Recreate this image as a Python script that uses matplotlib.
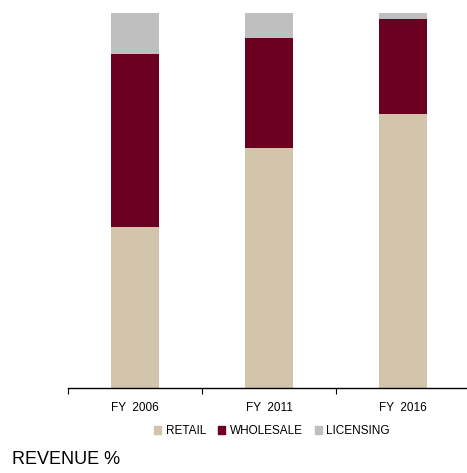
import numpy as np
import matplotlib
matplotlib.use('Agg')
import matplotlib.pyplot as plt
from matplotlib.patches import Patch

plt.rcParams['font.family'] = ['Liberation Sans', 'DejaVu Sans']

years = ['FY  2006', 'FY  2011', 'FY  2016']
retail = [42.9, 64.0, 73.0]
wholesale = [46.2, 29.4, 25.3]
licensing = [10.9, 6.6, 1.7]

c_retail = '#D3C4AC'
c_wholesale = '#6B0020'
c_licensing = '#BFBFBF'

fig = plt.figure(figsize=(4.67, 4.73), dpi=100)
ax = fig.add_axes([68 / 467, 1 - 388 / 473, 402 / 467, 375 / 473])

x = np.arange(len(years))
w = 0.36
r = np.array(retail)
ws = np.array(wholesale)
li = np.array(licensing)
ax.bar(x, r, w, color=c_retail, label='RETAIL')
ax.bar(x, ws, w, bottom=r, color=c_wholesale, label='WHOLESALE')
ax.bar(x, li, w, bottom=r + ws, color=c_licensing, label='LICENSING')

ax.set_xlim(-0.5, 2.5)
ax.set_ylim(0, 100)
ax.set_yticks([])
for s in ['top', 'right', 'left']:
    ax.spines[s].set_visible(False)
ax.spines['bottom'].set_linewidth(1.0)
ax.set_xticks([-0.5, 0.5, 1.5, 2.5])
ax.set_xticklabels([])
ax.tick_params(axis='x', which='major', length=4, width=0.8, direction='out')
ax.set_xticks(x, minor=True)
ax.set_xticklabels(years, minor=True, fontsize=8.5)
ax.tick_params(axis='x', which='minor', length=0, pad=10)

handles = [Patch(color=c_retail, label='RETAIL'),
           Patch(color=c_wholesale, label='WHOLESALE'),
           Patch(color=c_licensing, label='LICENSING')]
fig.legend(handles=handles, loc='center', bbox_to_anchor=(272 / 467, 1 - 431 / 473),
           ncol=3, frameon=False, fontsize=8.5, handlelength=0.6, handleheight=0.6,
           handletextpad=0.4, columnspacing=1.0)

fig.text(12 / 467, 1 - 459 / 473, 'REVENUE %', fontsize=13, va='center', ha='left')

fig.savefig('out.png', dpi=100)
